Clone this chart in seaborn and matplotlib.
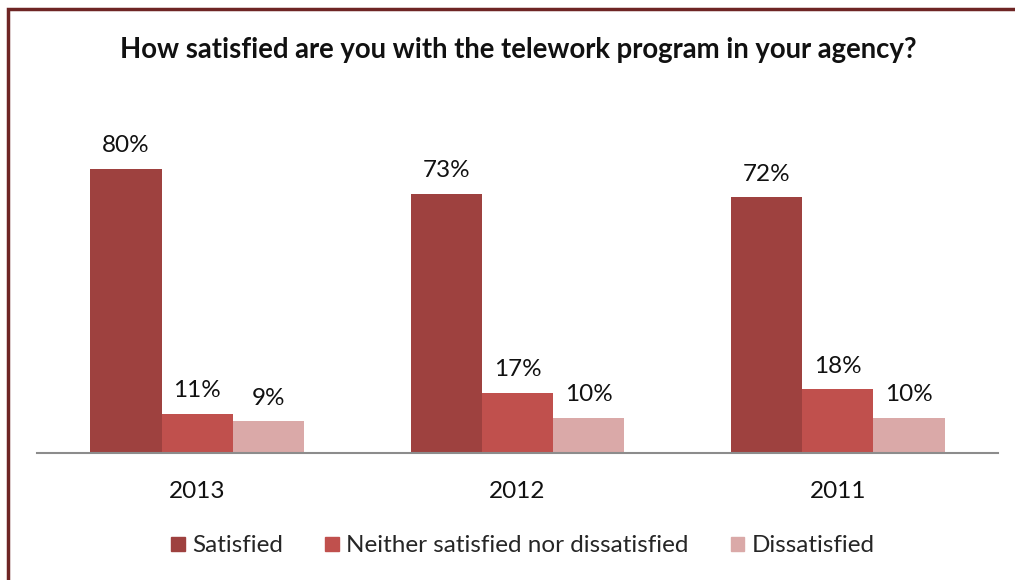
import matplotlib
matplotlib.use("Agg")
import matplotlib.pyplot as plt
import matplotlib.patches as mpatches
import seaborn as sns
import pandas as pd

years = ["2013", "2012", "2011"]
responses = ["Satisfied", "Neither satisfied nor dissatisfied", "Dissatisfied"]
satisfied = [80, 73, 72]
neither = [11, 17, 18]
dissatisfied = [9, 10, 10]
colors = ["#9E413F", "#C0504D", "#DAA9A8"]

rows = []
for resp, vals in zip(responses, [satisfied, neither, dissatisfied]):
    for yr, v in zip(years, vals):
        rows.append({"year": yr, "response": resp, "pct": v})
df = pd.DataFrame(rows)

sns.set_theme(style="white")
plt.rcParams["font.family"] = ["Lato", "DejaVu Sans"]

W, H = 1015, 580
FS = 17.5
fig = plt.figure(figsize=(W / 100, H / 100), dpi=100)
ax = fig.add_axes([37 / W, (H - 453) / H, (998 - 37) / W, (453 - 133.5) / H])

sns.barplot(data=df, x="year", y="pct", hue="response", order=years,
            hue_order=responses, palette=colors, width=0.666, gap=0,
            saturation=1, errorbar=None, linewidth=0, ax=ax, legend=False)

for cont in ax.containers:
    ax.bar_label(cont, labels=[f"{v:.0f}%" for v in cont.datavalues],
                 padding=9, fontsize=FS, color="#111111")

ax.set_xlim(-0.5, 2.5)
ax.set_ylim(0, 90)
ax.set_xlabel("")
ax.set_ylabel("")
ax.set_yticks([])
ax.tick_params(axis="x", length=0, pad=20, labelsize=FS, labelcolor="#111111")
for side in ["top", "left", "right"]:
    ax.spines[side].set_visible(False)
ax.spines["bottom"].set_color("#8C8C8C")
ax.spines["bottom"].set_linewidth(1.5)

fig.text(518.5 / W, (H - 50) / H, "How satisfied are you with the telework program in your agency?",
         ha="center", va="center", fontsize=19.8, fontweight="bold", color="#111111")

handles = [mpatches.Patch(color=c, label=r) for c, r in zip(colors, responses)]
fig.legend(handles=handles, loc="center", bbox_to_anchor=(523 / W, (H - 546) / H),
           ncol=3, frameon=False, fontsize=FS, handlelength=0.55, handleheight=0.55,
           handletextpad=0.3, columnspacing=1.75)

border = mpatches.Rectangle((7.5 / W, -0.05), 1.1, (H - 8.5) / H + 0.05,
                            transform=fig.transFigure, fill=False,
                            edgecolor="#6E2524", linewidth=2.5, clip_on=False)
fig.patches.append(border)

fig.savefig("out.png", dpi=100)
